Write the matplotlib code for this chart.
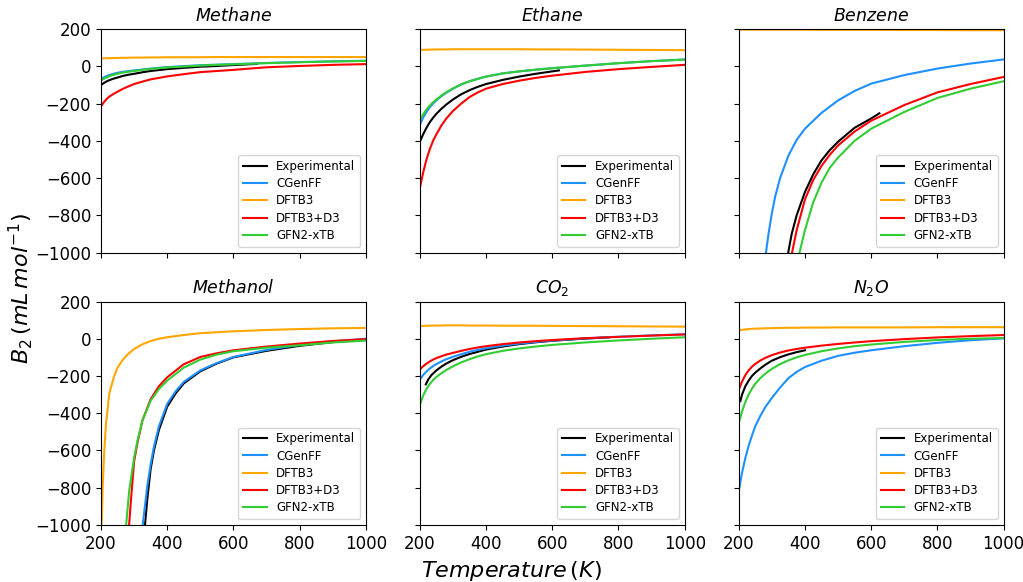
import matplotlib
matplotlib.use("Agg")
import matplotlib.pyplot as plt

# couleurs des méthodes
COLORS = ["black", "#1E90FF", "#FFA500", "red", "#32CD32"]
labels = ["Experimental", "CGenFF", "DFTB3", "DFTB3+D3", "GFN2-xTB"]
titles = ["$Methane$", "$Ethane$", "$Benzene$", "$Methanol$", "$CO_2$", "$N_2O$"]

T_grid = [200, 210, 220, 230, 240, 250, 265, 280, 300, 325, 350, 375, 400,
          450, 500, 550, 600, 700, 800, 900, 1000]

# ── Methane
methane_exp_T = [200, 210, 220, 230, 240, 250, 265, 280, 300, 325, 350, 375, 400,
                 450, 500, 550, 600, 670]
methane_exp = [-100, -88, -78, -71, -65, -60, -52, -46, -40, -32, -25, -20, -15,
               -8, -2, 2, 7, 13]
methane_cgenff = [-68, -58, -50, -44, -39, -35, -30, -26, -22, -17, -12, -8, -4,
                  1, 6, 9, 12, 18, 23, 27, 30]
methane_dftb3 = [42, 43, 44, 44, 45, 45, 46, 46, 47, 47, 48, 48, 49,
                 49, 49, 50, 50, 50, 50, 50, 50]
methane_d3 = [-215, -190, -170, -157, -146, -136, -122, -110, -95, -82, -70, -62, -54,
              -42, -31, -25, -19, -5, 2, 8, 12]
methane_gfn2 = [-76, -66, -57, -50, -45, -40, -34, -30, -25, -19, -14, -10, -6,
                -1, 4, 8, 11, 17, 22, 26, 29]

# ── Ethane
ethane_exp_T = [200, 210, 220, 230, 240, 250, 265, 280, 300, 325, 350, 375, 400,
                450, 500, 550, 600, 620]
ethane_exp = [-405, -365, -330, -300, -276, -255, -228, -205, -178, -150, -128, -110, -95,
              -73, -55, -40, -27, -22]
ethane_cgenff = [-315, -275, -245, -220, -200, -183, -160, -142, -120, -97, -80, -67, -55,
                 -38, -27, -18, -10, 4, 17, 28, 37]
ethane_dftb3 = [88, 89, 89, 90, 90, 91, 91, 91, 92, 92, 92, 92, 92,
                92, 92, 91, 91, 90, 89, 88, 87]
ethane_d3 = [-655, -570, -500, -445, -400, -365, -318, -280, -240, -200, -165, -140, -120,
             -95, -77, -62, -50, -30, -15, -3, 8]
ethane_gfn2 = [-288, -258, -232, -211, -193, -178, -157, -139, -119, -97, -80, -67, -55,
               -38, -27, -18, -10, 4, 17, 28, 36]

# ── Benzene
benzene_exp_T = [345, 350, 360, 375, 400, 425, 450, 475, 500, 550, 600, 625]
benzene_exp = [-1060, -995, -900, -800, -675, -580, -505, -450, -405, -330, -280, -252]
benzene_cgenff_T = [275, 280, 290, 300, 310, 325, 350, 375, 400, 450, 500, 550, 600,
                    700, 800, 900, 1000]
benzene_cgenff = [-1100, -1030, -900, -790, -700, -600, -480, -395, -335, -250, -183, -132, -93,
                  -47, -12, 15, 37]
benzene_dftb3 = [197, 197, 197, 197, 197, 197, 197, 197, 197, 197, 197, 197, 197,
                 196, 196, 196, 196, 195, 195, 194, 194]
benzene_d3_T = [350, 360, 375, 400, 425, 450, 475, 500, 550, 600, 700, 800, 900, 1000]
benzene_d3 = [-1100, -1010, -880, -715, -610, -535, -475, -425, -350, -292, -208, -140, -95, -57]
benzene_gfn2_T = [375, 385, 400, 425, 450, 475, 500, 550, 600, 700, 800, 900, 1000]
benzene_gfn2 = [-1070, -990, -880, -730, -625, -545, -490, -400, -335, -245, -170, -120, -80]

# ── Methanol
methanol_exp_T = [325, 333, 340, 350, 360, 375, 400, 425, 450, 500, 550, 600, 700, 800, 900, 1000]
methanol_exp = [-1120, -1000, -860, -700, -600, -490, -365, -295, -240, -175, -133, -100,
                -65, -38, -18, -5]
methanol_cgenff_T = [320, 326, 340, 350, 360, 375, 400, 425, 450, 500, 550, 600, 700, 800, 900, 1000]
methanol_cgenff = [-1100, -1000, -790, -675, -580, -470, -350, -283, -232, -170, -130, -98,
                   -60, -33, -14, 0]
methanol_dftb3_T = [200, 202, 205, 210, 215, 220, 225, 230, 240, 250, 265, 280, 300, 325,
                    350, 375, 400, 450, 500, 600, 700, 800, 900, 1000]
methanol_dftb3 = [-1080, -1000, -800, -600, -460, -380, -295, -262, -200, -155, -115, -85,
                  -55, -30, -12, 0, 8, 20, 30, 40, 47, 52, 56, 58]
methanol_d3_T = [280, 285, 290, 300, 310, 325, 350, 375, 400, 450, 500, 550, 600, 700, 800, 900, 1000]
methanol_d3 = [-1080, -1000, -880, -660, -560, -440, -325, -255, -207, -137, -98, -78, -62,
               -42, -26, -12, -2]
methanol_gfn2_T = [270, 276, 285, 300, 310, 325, 350, 375, 400, 450, 500, 550, 600, 700, 800, 900, 1000]
methanol_gfn2 = [-1120, -1000, -820, -640, -550, -440, -333, -270, -225, -155, -112, -85, -67,
                 -48, -35, -20, -10]

# ── CO2
co2_exp_T = [218, 225, 235, 250, 265, 280, 300, 325, 350, 375, 400, 450, 500, 550, 600, 700, 770]
co2_exp = [-245, -220, -195, -170, -150, -133, -115, -97, -82, -70, -58, -42, -29, -19, -11, 1, 7]
co2_cgenff = [-220, -195, -176, -160, -147, -136, -122, -110, -97, -83, -70, -60, -51,
              -37, -26, -17, -10, 2, 11, 18, 24]
co2_dftb3 = [68, 69, 70, 70, 71, 71, 71, 72, 72, 72, 71, 71, 71,
             70, 70, 70, 69, 68, 67, 66, 65]
co2_d3 = [-165, -148, -134, -122, -112, -104, -94, -85, -76, -65, -55, -47, -40,
          -29, -20, -13, -7, 3, 10, 17, 23]
co2_gfn2 = [-355, -305, -270, -243, -222, -205, -185, -168, -148, -127, -110, -95, -83,
            -65, -52, -42, -33, -20, -9, 0, 8]

# ── N2O
n2o_exp_T = [205, 210, 220, 230, 240, 250, 265, 280, 300, 325, 350, 375, 400]
n2o_exp = [-335, -300, -255, -225, -200, -182, -160, -140, -118, -99, -84, -72, -62]
n2o_cgenff = [-820, -720, -640, -575, -520, -470, -415, -368, -318, -262, -212, -178, -152,
              -118, -92, -75, -62, -40, -22, -8, 2]
n2o_dftb3 = [45, 48, 50, 52, 53, 54, 55, 56, 57, 58, 59, 59, 60,
             60, 61, 61, 61, 61, 62, 62, 62]
n2o_d3 = [-275, -230, -195, -170, -150, -135, -117, -103, -88, -74, -63, -55, -48,
          -37, -28, -20, -13, -2, 7, 14, 20]
n2o_gfn2 = [-455, -390, -340, -300, -268, -242, -212, -188, -162, -136, -116, -100, -87,
            -67, -52, -40, -31, -17, -7, 0, 4]

panels = [
    [(methane_exp_T, methane_exp), (T_grid, methane_cgenff), (T_grid, methane_dftb3),
     (T_grid, methane_d3), (T_grid, methane_gfn2)],
    [(ethane_exp_T, ethane_exp), (T_grid, ethane_cgenff), (T_grid, ethane_dftb3),
     (T_grid, ethane_d3), (T_grid, ethane_gfn2)],
    [(benzene_exp_T, benzene_exp), (benzene_cgenff_T, benzene_cgenff), (T_grid, benzene_dftb3),
     (benzene_d3_T, benzene_d3), (benzene_gfn2_T, benzene_gfn2)],
    [(methanol_exp_T, methanol_exp), (methanol_cgenff_T, methanol_cgenff),
     (methanol_dftb3_T, methanol_dftb3), (methanol_d3_T, methanol_d3),
     (methanol_gfn2_T, methanol_gfn2)],
    [(co2_exp_T, co2_exp), (T_grid, co2_cgenff), (T_grid, co2_dftb3),
     (T_grid, co2_d3), (T_grid, co2_gfn2)],
    [(n2o_exp_T, n2o_exp), (T_grid, n2o_cgenff), (T_grid, n2o_dftb3),
     (T_grid, n2o_d3), (T_grid, n2o_gfn2)],
]

fig, axes = plt.subplots(2, 3, figsize=(10.23, 5.82), dpi=100, sharex=True, sharey=True)
fig.subplots_adjust(left=0.0987, right=0.981, top=0.950, bottom=0.098,
                    wspace=0.204, hspace=0.219)

for ax, title, series in zip(axes.flat, titles, panels):
    for (t, b), col, lab in zip(series, COLORS, labels):
        ax.plot(t, b, color=col, lw=1.5, label=lab)
    ax.set_title(title, fontsize=12.5)
    ax.set_xlim(200, 1000)
    ax.set_ylim(-1000, 200)
    ax.set_xticks([200, 400, 600, 800, 1000])
    ax.set_yticks([-1000, -800, -600, -400, -200, 0, 200])
    ax.tick_params(labelsize=12)
    ax.legend(loc="lower right", fontsize=8.5, labelspacing=0.36)

fig.text(0.5, 0.008, "$Temperature\\,(K)$", ha="center", fontsize=16)
fig.text(0.006, 0.505, "$B_2\\,(mL\\,mol^{-1})$", va="center", rotation=90, fontsize=16)

plt.savefig("out.png", dpi=100)
